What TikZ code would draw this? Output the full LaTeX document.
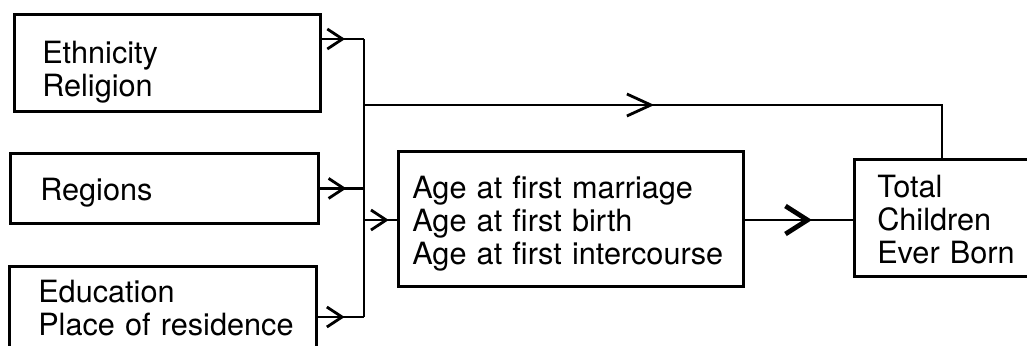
\documentclass[tikz,border=0pt]{standalone}
\usepackage{fontspec}
\setmainfont{TeX Gyre Heros}
\usetikzlibrary{arrows.meta,decorations.markings}

\begin{document}
\begin{tikzpicture}[
	x=0.025cm, y=-0.025cm,
	frame/.style={draw=black, line width=2pt, inner sep=0pt, anchor=north west},
	boxtext/.style={anchor=base west, inner sep=0pt, text width=#1, align=left,
		font=\fontsize{21.8}{23.5}\selectfont},
	link/.style={line width=2pt},
	arrowat/.style 2 args={postaction={decorate},
		decoration={markings, mark=at position #1 with {\arrow{#2}}}},
	barb/.tip={Straight Barb[length=0.38cm, width=0.5cm, line width=2pt]},
	longbarb/.tip={Straight Barb[length=0.6cm, width=0.55cm, line width=2pt]},
	bigbarb/.tip={Straight Barb[length=0.55cm, width=0.7cm, line width=3.4pt]}
	]
	\useasboundingbox (0,0) rectangle (1027,345);
	
	% boxes on the left
	\node[frame, minimum width=7.65cm, minimum height=2.425cm] (ethnic) at (13,13) {};
	\node[frame, minimum width=7.7cm, minimum height=1.75cm] (region) at (9,152) {};
	\node[frame, minimum width=7.675cm, minimum height=2.5cm] (educ) at (8,265) {};
	
	% middle box and outcome (both cut by the page)
	\node[frame, minimum width=8.625cm, minimum height=3.375cm] (ages) at (397,150) {};
	\node[frame, minimum width=5.175cm, minimum height=2.925cm] (ceb) at (853,158) {};
	
	% texts
	\node[boxtext=7cm] (ethnic-txt) at (42,63) {Ethnicity\\Religion};
	\node[boxtext=7cm] (region-txt) at (40,200) {Regions};
	\node[boxtext=7cm] (educ-txt) at (38,302) {Education\\Place of residence};
	\node[boxtext=8cm] (ages-txt) at (412,198) {Age at first marriage\\Age at first birth\\Age at first intercourse};
	\node[boxtext=4cm] (ceb-txt) at (877,197) {Total\\Children\\Ever Born};
	
	% junctions
	\coordinate (jtop) at (364,39);
	\coordinate (jup) at (364,105);
	\coordinate (jmid) at (364,220);
	\coordinate (jbot) at (364,317);
	\coordinate (bend) at (942,105);
	
	\draw[link] (jtop) -- (jbot);
	\draw[link, arrowat={0.55}{barb}] (ethnic.east |- jtop) -- (jtop);
	\draw[link, arrowat={0.6}{barb}] (region.east) -- (region.east -| jtop);
	\draw[link, arrowat={0.58}{barb}] (educ.east |- jbot) -- (jbot);
	\draw[link, arrowat={0.75}{barb}] (jmid) -- (jmid -| ages.west);
	\draw[link, arrowat={0.46}{longbarb}] (jup) -- (bend) -- (ceb.north -| bend);
	\draw[link, arrowat={0.62}{bigbarb}] (ages.east |- jmid) -- (ceb.west |- jmid);
\end{tikzpicture}
\end{document}
